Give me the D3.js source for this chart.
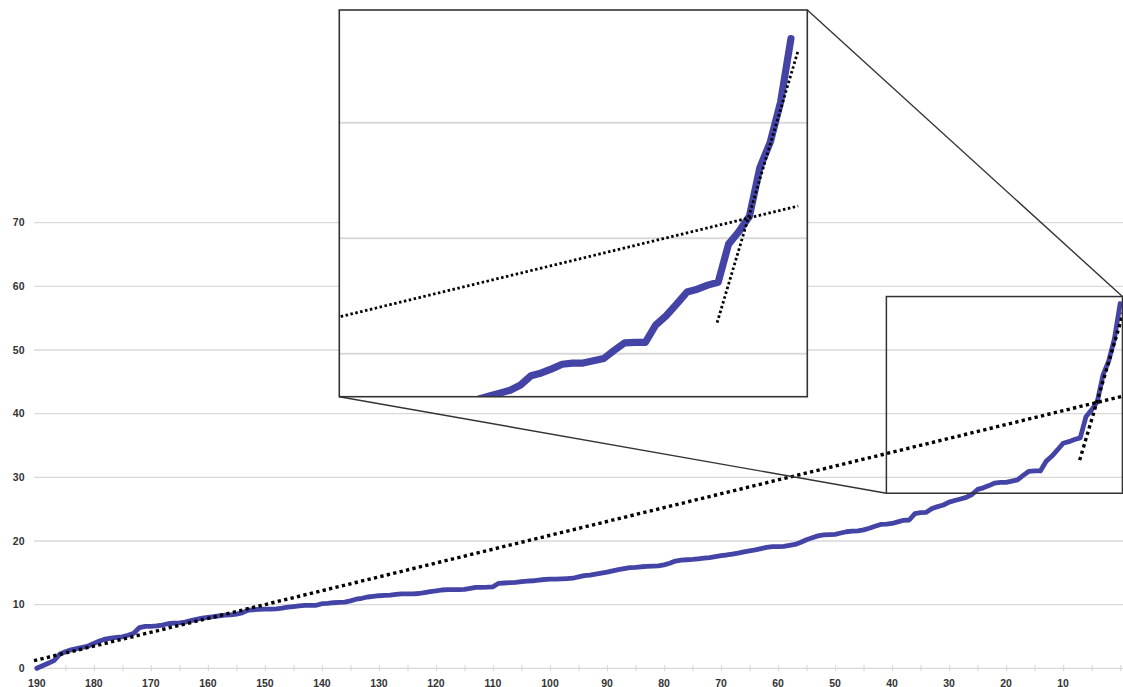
<!DOCTYPE html>
<html><head><meta charset="utf-8">
<script src="https://cdn.jsdelivr.net/npm/d3@7"></script>
<style>html,body{margin:0;padding:0;background:#fff;overflow:hidden}</style>
</head><body><svg id="c" width="1123" height="687"></svg>
<script>
// categories: ranks from 190 down to 0
const ranks = d3.range(190, -1, -1);
// values, in the order of ranks (190 ... 0)
const values = [
  0.0, 0.4, 0.8, 1.2, 2.2, 2.6, 2.9, 3.1, 3.3, 3.5,          // 190-181
  3.9, 4.3, 4.6, 4.75, 4.85, 4.95, 5.2, 5.5, 6.4, 6.6,       // 180-171
  6.6, 6.65, 6.8, 7.0, 7.1, 7.15, 7.25, 7.5, 7.7, 7.9,       // 170-161
  8.0, 8.1, 8.25, 8.35, 8.4, 8.5, 8.7, 9.1, 9.2, 9.25,       // 160-151
  9.3, 9.3, 9.35, 9.45, 9.6, 9.7, 9.8, 9.9, 9.9, 9.9,        // 150-141
  10.15, 10.2, 10.3, 10.35, 10.4, 10.6, 10.85, 11.0, 11.2, 11.3, // 140-131
  11.4, 11.45, 11.5, 11.6, 11.7, 11.7, 11.7, 11.75, 11.9, 12.05, // 130-121
  12.15, 12.3, 12.35, 12.35, 12.35, 12.4, 12.55, 12.7, 12.72, 12.75, // 120-111
  12.8, 13.35, 13.4, 13.45, 13.5, 13.6, 13.7, 13.75, 13.85, 13.95, // 110-101
  14.0, 14.0, 14.05, 14.1, 14.15, 14.35, 14.55, 14.65, 14.8, 14.95, // 100-91
  15.1, 15.3, 15.5, 15.65, 15.8, 15.85, 15.95, 16.0, 16.05, 16.1, // 90-81
  16.25, 16.5, 16.85, 17.0, 17.05, 17.1, 17.2, 17.3, 17.4, 17.55, // 80-71
  17.7, 17.8, 17.95, 18.1, 18.3, 18.45, 18.6, 18.8, 19.0, 19.1,   // 70-61
  19.1, 19.15, 19.3, 19.45, 19.8, 20.2, 20.5, 20.8, 20.95, 21.0,  // 60-51
  21.05, 21.25, 21.45, 21.55, 21.6, 21.75, 22.0, 22.3, 22.6, 22.65, // 50-41
  22.75, 23.0, 23.25, 23.3, 24.3, 24.45, 24.5, 25.1, 25.4, 25.65, // 40-31
  26.1, 26.35, 26.6, 26.85, 27.3, 28.1, 28.35, 28.7, 29.1, 29.2,  // 30-21
  29.2, 29.4, 29.6, 30.3, 30.95, 31.0, 31.0, 32.5, 33.3, 34.3,    // 20-11
  35.35, 35.6, 35.95, 36.2, 39.5, 40.6, 41.9, 46.1, 48.3, 51.8,   // 10-1
  57.3                                                            // 0
];
const xTicks = d3.range(190, -1, -5);
const xLabels = [190, 180, 170, 160, 150, 140, 130, 120, 110, 100, 90, 80, 70, 60, 50, 40, 30, 20, 10];
const yLabels = [0, 10, 20, 30, 40, 50, 60, 70];
// dotted trend lines (end points)
const trendAllRanks = [190.5, -0.7];
const trendAllValues = [1.2, 42.8];
const trendEndRanks = [7.1, -0.7];
const trendEndValues = [32.7, 56.3];
// zoomed region: marked box on the main chart, and the magnified inset
const boxRanks = [41, -0.4];
const boxValues = [27.5, 58.4];
const insetRanks = [43.43, -1.57];
const insetValues = [26.29, 59.77];

const data = ranks.map((r, i) => ({r, v: values[i]}));
const tAll = trendAllRanks.map((r, i) => ({r, v: trendAllValues[i]}));
const tEnd = trendEndRanks.map((r, i) => ({r, v: trendEndValues[i]}));

const svg = d3.select('#c');
const W = 1123;
const x = d3.scaleLinear().domain([190.5, -0.5]).range([34, 1123]);
const y = d3.scaleLinear().domain([0, 70]).range([668.3, 222.7]);
const lineColor = '#4444a6';
const gridColor = '#d9d9d9';
const font = '"Liberation Sans", Arial, sans-serif';

// gridlines
svg.append('g').selectAll('line').data(yLabels.filter(d => d > 0)).join('line')
  .attr('x1', 34).attr('x2', W).attr('y1', d => y(d)).attr('y2', d => y(d))
  .attr('stroke', gridColor).attr('stroke-width', 1.3);

// x axis
const xAxis = d3.axisBottom(x).tickValues(xTicks).tickSize(3).tickFormat('');
const gx = svg.append('g').attr('transform', `translate(0,${y(0)})`).call(xAxis);
gx.select('.domain').attr('stroke', gridColor).attr('stroke-width', 1.3)
  .attr('d', `M34,0H${W}`);
gx.selectAll('.tick line').attr('stroke', gridColor).attr('stroke-width', 1.2)
  .attr('y1', -3).attr('y2', 3);
svg.append('g').selectAll('text').data(xLabels).join('text')
  .attr('x', d => x(d)).attr('y', 686.5).attr('text-anchor', 'middle')
  .attr('font-family', font).attr('font-weight', 'bold').attr('font-size', 10.5)
  .attr('fill', '#333').text(d => d);

// y labels
svg.append('g').selectAll('text').data(yLabels).join('text')
  .attr('x', 24.5).attr('y', d => y(d)).attr('dy', '0.36em').attr('text-anchor', 'end')
  .attr('font-family', font).attr('font-weight', 'bold').attr('font-size', 10.5)
  .attr('fill', '#333').text(d => d);

// main line + trends
const line = d3.line().x(d => x(d.r)).y(d => y(d.v));
svg.append('path').datum(data).attr('d', line).attr('fill', 'none')
  .attr('stroke', lineColor).attr('stroke-width', 4.8)
  .attr('stroke-linejoin', 'round').attr('stroke-linecap', 'round');
[tAll, tEnd].forEach(t => svg.append('path').datum(t).attr('d', line)
  .attr('fill', 'none').attr('stroke', '#000').attr('stroke-width', 3.4)
  .attr('stroke-dasharray', '3.3 3.3'));

// zoom box on the main chart
const bx0 = x(boxRanks[0]), bx1 = x(boxRanks[1]);
const by0 = y(boxValues[1]), by1 = y(boxValues[0]);
svg.append('rect').attr('x', bx0).attr('y', by0).attr('width', bx1 - bx0).attr('height', by1 - by0)
  .attr('fill', 'none').attr('stroke', '#333').attr('stroke-width', 1.5);

// inset
const ix = d3.scaleLinear().domain(insetRanks).range([339.3, 807.3]);
const iy = d3.scaleLinear().domain(insetValues).range([396.7, 10]);
const ix0 = ix.range()[0], ix1 = ix.range()[1], iy0 = iy.range()[1], iy1 = iy.range()[0];

// connector lines
svg.append('line').attr('x1', ix1).attr('y1', iy0).attr('x2', bx1).attr('y2', by0)
  .attr('stroke', '#333').attr('stroke-width', 1.4);
svg.append('line').attr('x1', ix0).attr('y1', iy1).attr('x2', bx0).attr('y2', by1)
  .attr('stroke', '#333').attr('stroke-width', 1.4);

svg.append('defs').append('clipPath').attr('id', 'ic').append('rect')
  .attr('x', ix0).attr('y', iy0).attr('width', ix1 - ix0).attr('height', iy1 - iy0);
svg.append('rect').attr('x', ix0).attr('y', iy0).attr('width', ix1 - ix0).attr('height', iy1 - iy0)
  .attr('fill', '#fff');
const gi = svg.append('g').attr('clip-path', 'url(#ic)');
gi.selectAll('line').data(yLabels.filter(d => d > insetValues[0] && d < insetValues[1])).join('line')
  .attr('x1', ix0).attr('x2', ix1).attr('y1', d => iy(d)).attr('y2', d => iy(d))
  .attr('stroke', gridColor).attr('stroke-width', 2);
const iline = d3.line().x(d => ix(d.r)).y(d => iy(d.v));
gi.append('path').datum(data).attr('d', iline).attr('fill', 'none')
  .attr('stroke', lineColor).attr('stroke-width', 7.2)
  .attr('stroke-linejoin', 'round').attr('stroke-linecap', 'round');
[tAll, tEnd].forEach(t => gi.append('path').datum(t).attr('d', iline)
  .attr('fill', 'none').attr('stroke', '#000').attr('stroke-width', 2.8)
  .attr('stroke-dasharray', '2.5 2.5'));
svg.append('rect').attr('x', ix0).attr('y', iy0).attr('width', ix1 - ix0).attr('height', iy1 - iy0)
  .attr('fill', 'none').attr('stroke', '#333').attr('stroke-width', 1.6);
</script></body></html>
